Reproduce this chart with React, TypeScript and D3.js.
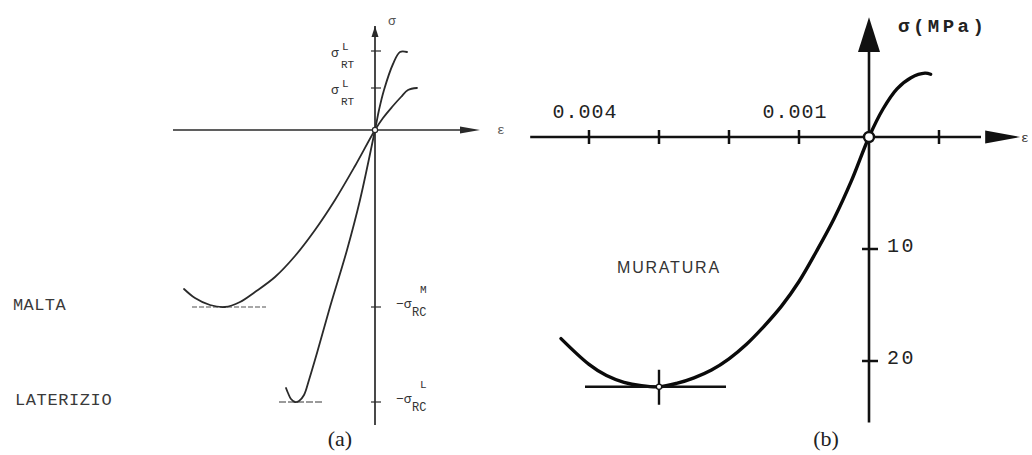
import React from "react";
import * as d3 from "d3";

type Pt = [number, number];

// ---------- Panel (a): schematic σ–ε laws, arbitrary units (ε right, σ up) ----------
// Laterizio (brick): tension branch from its plateau down to the origin, then compression
const laterizioTension: Pt[] = [[3.2, 7.8], [2.5, 7.8], [1.8, 6.6], [0.9, 4.0], [0.4, 2.0], [0, 0]];
const laterizioCompression: Pt[] = [[-1.5, -7.0], [-2.8, -12.0], [-4.5, -17.7], [-5.8, -22.3], [-6.6, -25.0], [-7.1, -26.5], [-7.6, -27.1], [-8.0, -27.2], [-8.4, -26.9], [-8.7, -26.3], [-8.9, -25.8]];
// Malta (mortar)
const maltaTension: Pt[] = [[4.2, 4.2], [3.3, 4.0], [2.6, 3.3], [1.7, 2.3], [0.8, 1.2], [0, 0]];
const maltaCompression: Pt[] = [[-2.0, -3.6], [-4.0, -7.0], [-6.0, -10.0], [-8.0, -12.6], [-10.0, -14.7], [-12.0, -16.2], [-13.5, -17.2], [-15.0, -17.7], [-16.5, -17.5], [-18.0, -16.8], [-19.1, -15.9]];
// Strength levels marked on the σ axis
const sigmaRtL_upper = 7.9;
const sigmaRtL_lower = 4.2;
const sigmaRcM = -17.7;
const sigmaRcL = -27.2;
// Peak plateaus (strain spans of the guide lines)
const maltaPeakSpan: Pt = [-18.3, -10.9];
const laterizioPeakSpan: Pt = [-9.6, -5.3];

// ---------- Panel (b): masonry (muratura), compression plotted positive ----------
// [compressive strain, compressive stress MPa]; negative values = tension
const muraturaCurve: Pt[] = [
  [-0.00088, -5.6], [-0.0008, -5.7], [-0.0006, -5.3], [-0.0004, -4.3], [-0.0002, -2.5],
  [0, 0], [0.00025, 3.9], [0.0005, 7.3], [0.00075, 10.2], [0.001, 12.9], [0.00125, 15.1],
  [0.0015, 16.9], [0.00175, 18.5], [0.002, 19.8], [0.00225, 20.8], [0.0025, 21.5],
  [0.00275, 22.0], [0.003, 22.3], [0.00325, 22.2], [0.0035, 21.9], [0.00375, 21.3],
  [0.004, 20.3], [0.0044, 18.0],
];
const muraturaPeak: Pt = [0.003, 22.3];
const strainTicks = [0.004, 0.003, 0.002, 0.001, -0.001];
const strainLabels = [0.004, 0.001];
const stressTicks = [10, 20];

const mono = "'Liberation Mono', 'DejaVu Sans Mono', monospace";
const ink = "#2a2a2a";

export default function App() {
  // scales for (a)
  const xA = d3.scaleLinear().domain([-20, 12]).range([175, 495]);
  const yA = d3.scaleLinear().domain([10.8, -29.5]).range([22, 425]);
  // scales for (b)
  const xB = d3.scaleLinear().domain([0.0049, -0.0022]).range([526, 1023]);
  const yB = d3.scaleLinear().domain([-10.5, 25.5]).range([19.4, 422.6]);

  const lineA = d3.line<Pt>().x((d) => xA(d[0])).y((d) => yA(d[1])).curve(d3.curveCatmullRom.alpha(0.5));
  const lineB = d3.line<Pt>().x((d) => xB(d[0])).y((d) => yB(d[1])).curve(d3.curveCatmullRom.alpha(0.5));

  const ax0 = xA(0), ay0 = yA(0);
  const bx0 = xB(0), by0 = yB(0);

  const laterizio = [...laterizioTension, ...laterizioCompression];
  const malta = [...maltaTension, ...maltaCompression];

  const px = xB(muraturaPeak[0]), py = yB(muraturaPeak[1]);

  return (
    <div style={{ position: "absolute", left: 0, top: 0 }}>
      <svg width={1032} height={455} style={{ display: "block", background: "#fff" }}>
        {/* ---------------- (a) ---------------- */}
        <g>
          {/* axes */}
          <line x1={xA(-20.2)} y1={ay0} x2={xA(8.8)} y2={ay0} stroke={ink} strokeWidth={1.7} />
          <path d={`M${xA(10.5)},${ay0} L${xA(8.5)},${ay0 - 3.5} L${xA(8.5)},${ay0 + 3.5} Z`} fill={ink} />
          <text x={xA(12.2)} y={ay0 + 4} fontFamily={mono} fontSize={13} fill="#555">ε</text>
          <line x1={ax0} y1={yA(10.4)} x2={ax0} y2={yA(-29.5)} stroke={ink} strokeWidth={1.7} />
          <path d={`M${ax0},${yA(10.4)} L${ax0 - 3.5},${yA(9.3)} L${ax0 + 3.5},${yA(9.3)} Z`} fill={ink} />
          <text x={ax0 + 13} y={yA(10.8) + 3} fontFamily={mono} fontSize={13} fill="#555">σ</text>

          {/* ticks on σ axis */}
          {[sigmaRtL_upper, sigmaRtL_lower, sigmaRcM, sigmaRcL].map((v, i) => (
            <line key={i} x1={ax0 - 4} x2={ax0 + 6} y1={yA(v)} y2={yA(v)} stroke={ink} strokeWidth={1.2} />
          ))}

          {/* σ^L_RT labels */}
          {[sigmaRtL_upper, sigmaRtL_lower].map((v, i) => (
            <g key={i} fontFamily={mono} fill="#333">
              <text x={ax0 - 44} y={yA(v) + 6} fontSize={13}>σ</text>
              <text x={ax0 - 33} y={yA(v) - 1} fontSize={11}>L</text>
              <text x={ax0 - 34} y={yA(v) + 17} fontSize={11}>RT</text>
            </g>
          ))}
          {/* -σ^M_RC and -σ^L_RC labels */}
          {[
            { v: sigmaRcM, sup: "M" },
            { v: sigmaRcL, sup: "L" },
          ].map((d, i) => (
            <g key={i} fontFamily={mono} fill="#333">
              <text x={ax0 + 21} y={yA(d.v) + 1} fontSize={13}>−σ</text>
              <text x={ax0 + 37} y={yA(d.v) + 9} fontSize={12}>RC</text>
              <text x={ax0 + 45} y={yA(d.v) - 14} fontSize={11}>{d.sup}</text>
            </g>
          ))}

          {/* peak guide lines */}
          <line x1={xA(maltaPeakSpan[0])} x2={xA(maltaPeakSpan[1])} y1={yA(sigmaRcM)} y2={yA(sigmaRcM)} stroke="#8a8a8a" strokeWidth={1.5} strokeDasharray="5,2" />
          <line x1={xA(laterizioPeakSpan[0])} x2={xA(laterizioPeakSpan[1])} y1={yA(sigmaRcL)} y2={yA(sigmaRcL)} stroke="#7a7a7a" strokeWidth={1.5} strokeDasharray="7,2" />

          {/* curves */}
          <path d={lineA(malta) ?? ""} fill="none" stroke={ink} strokeWidth={1.8} strokeLinecap="round" />
          <path d={lineA(laterizio) ?? ""} fill="none" stroke={ink} strokeWidth={1.8} strokeLinecap="round" />

          {/* origin */}
          <circle cx={ax0} cy={ay0} r={2.6} fill="#fff" stroke={ink} strokeWidth={1.2} />

          {/* material names */}
          <text x={13} y={310} fontFamily={mono} fontSize={17} letterSpacing={0.4} fill="#3a3a3a">MALTA</text>
          <text x={15} y={405} fontFamily={mono} fontSize={17} letterSpacing={0.6} fill="#3a3a3a">LATERIZIO</text>

          <text x={340} y={446} textAnchor="middle" fontFamily="'Liberation Serif', 'Times New Roman', serif" fontSize={22} fill="#222">(a)</text>
        </g>

        {/* ---------------- (b) ---------------- */}
        <g>
          {/* ε axis */}
          <line x1={xB(0.00484)} y1={by0} x2={xB(-0.0016)} y2={by0} stroke="#111" strokeWidth={2.5} />
          <path d={`M${xB(-0.00216)},${by0} L${xB(-0.00166)},${by0 - 6.5} L${xB(-0.00166)},${by0 + 6.5} Z`} fill="#111" />
          <text x={1021} y={by0 + 5} fontFamily={mono} fontSize={13} fill="#333">ε</text>
          {strainTicks.map((t) => (
            <line key={t} x1={xB(t)} x2={xB(t)} y1={by0 - 7} y2={by0 + 7} stroke="#111" strokeWidth={2.5} />
          ))}
          {strainLabels.map((t) => (
            <text key={t} x={xB(t) - 4} y={by0 - 19} textAnchor="middle" fontFamily={mono} fontSize={20} letterSpacing={1} fill="#222">
              {t.toFixed(3)}
            </text>
          ))}

          {/* σ axis */}
          <line x1={bx0} y1={yB(-9)} x2={bx0} y2={yB(25.5)} stroke="#111" strokeWidth={2.6} />
          <path d={`M${bx0},${yB(-10.7)} L${bx0 - 11},${yB(-7.6)} L${bx0 + 11},${yB(-7.6)} Z`} fill="#111" />
          <text x={898} y={32} fontFamily={mono} fontSize={19} fontWeight="bold" letterSpacing={3.5} fill="#222">σ(MPa)</text>
          {stressTicks.map((t) => (
            <g key={t}>
              <line x1={bx0 - 7} x2={bx0 + 9} y1={yB(t)} y2={yB(t)} stroke="#111" strokeWidth={2.5} />
              <text x={bx0 + 18} y={yB(t) + 3} fontFamily={mono} fontSize={20} letterSpacing={2.5} fill="#222">{t}</text>
            </g>
          ))}

          {/* stress–strain curve */}
          <path d={lineB(muraturaCurve) ?? ""} fill="none" stroke="#0a0a0a" strokeWidth={3.4} strokeLinecap="round" />

          {/* peak marker */}
          <line x1={px - 74} x2={px + 67} y1={py} y2={py} stroke="#111" strokeWidth={2.4} />
          <line x1={px} x2={px} y1={py - 17} y2={py + 18} stroke="#111" strokeWidth={2.4} />
          <circle cx={px} cy={py} r={2.6} fill="#fff" stroke="#111" strokeWidth={1.2} />

          {/* origin */}
          <circle cx={bx0} cy={by0} r={5} fill="#fff" stroke="#111" strokeWidth={2.4} />

          <text x={617} y={273} fontFamily="'Liberation Sans', Arial, sans-serif" fontSize={16} letterSpacing={1.8} fill="#333">MURATURA</text>

          <text x={826} y={446} textAnchor="middle" fontFamily="'Liberation Serif', 'Times New Roman', serif" fontSize={22} fill="#222">(b)</text>
        </g>
      </svg>
    </div>
  );
}
